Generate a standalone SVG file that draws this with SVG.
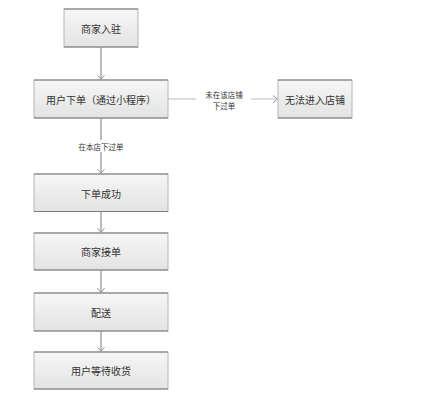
<svg xmlns="http://www.w3.org/2000/svg" width="440" height="400" viewBox="0 0 440 400">
<defs>
<linearGradient id="g" x1="0" y1="0" x2="0" y2="1">
<stop offset="0" stop-color="#f6f6f6"/>
<stop offset="1" stop-color="#e3e3e3"/>
</linearGradient>
<marker id="arr" markerUnits="userSpaceOnUse" markerWidth="10" markerHeight="10" refX="5" refY="4" orient="auto">
<path d="M0,0 L5,4 L0,8" fill="none" stroke="#999" stroke-width="1"/>
</marker>
<style>
.box{fill:url(#g);stroke:#b5b5b5;stroke-width:1}
.edge{stroke:#7a7a7a;stroke-width:1}
.t{font-family:"Noto Sans CJK SC","Noto Sans",sans-serif;font-size:10px;fill:#333;text-anchor:middle;dominant-baseline:central}
.l{font-family:"Noto Sans CJK SC","Noto Sans",sans-serif;font-size:7.5px;fill:#333;text-anchor:middle;dominant-baseline:central}
.c{stroke:#7a7a7a;stroke-width:1;fill:none}
.ch{stroke:#d0d0d0;stroke-width:1.5;fill:none}
</style>
</defs>
<rect width="440" height="400" fill="#fff"/>
<g id="connectors">
<line class="c" x1="101" y1="47" x2="101" y2="79.5" marker-end="url(#arr)"/>
<line class="c" x1="101" y1="118" x2="101" y2="140"/>
<line class="c" x1="101" y1="152" x2="101" y2="173.5" marker-end="url(#arr)"/>
<text class="l" x="101" y="146">在本店下过单</text>
<line class="c" x1="101" y1="211" x2="101" y2="232.5" marker-end="url(#arr)"/>
<line class="c" x1="101" y1="270" x2="101" y2="292.5" marker-end="url(#arr)"/>
<line class="c" x1="101" y1="331" x2="101" y2="351.5" marker-end="url(#arr)"/>
<line class="ch" x1="168" y1="99" x2="196" y2="99"/>
<line class="ch" x1="251" y1="99" x2="277.5" y2="99" marker-end="url(#arr)"/>
<text class="l" x="224" y="94.5">未在该店铺</text>
<text class="l" x="224" y="105">下过单</text>
</g>
<g id="n1"><rect class="box" x="64" y="9" width="74" height="38"/><path class="edge" d="M64,9H138M64,47H138"/><text class="t" x="101" y="28">商家入驻</text></g>
<g id="n2"><rect class="box" x="34" y="80" width="134" height="38"/><path class="edge" d="M34,80H168M34,118H168"/><text class="t" x="101" y="99">用户下单（通过小程序）</text></g>
<g id="n3"><rect class="box" x="34" y="174" width="134" height="37.5"/><path class="edge" d="M34,174H168M34,211.5H168"/><text class="t" x="101" y="193">下单成功</text></g>
<g id="n4"><rect class="box" x="34" y="233" width="134" height="37"/><path class="edge" d="M34,233H168M34,270H168"/><text class="t" x="101" y="251.5">商家接单</text></g>
<g id="n5"><rect class="box" x="34" y="293" width="134" height="38"/><path class="edge" d="M34,293H168M34,331H168"/><text class="t" x="101" y="312">配送</text></g>
<g id="n6"><rect class="box" x="34" y="352" width="134" height="37"/><path class="edge" d="M34,352H168M34,389H168"/><text class="t" x="101" y="370.5">用户等待收货</text></g>
<g id="n7"><rect class="box" x="278" y="80" width="74" height="38"/><path class="edge" d="M278,80H352M278,118H352"/><text class="t" x="315" y="99">无法进入店铺</text></g>
</svg>
